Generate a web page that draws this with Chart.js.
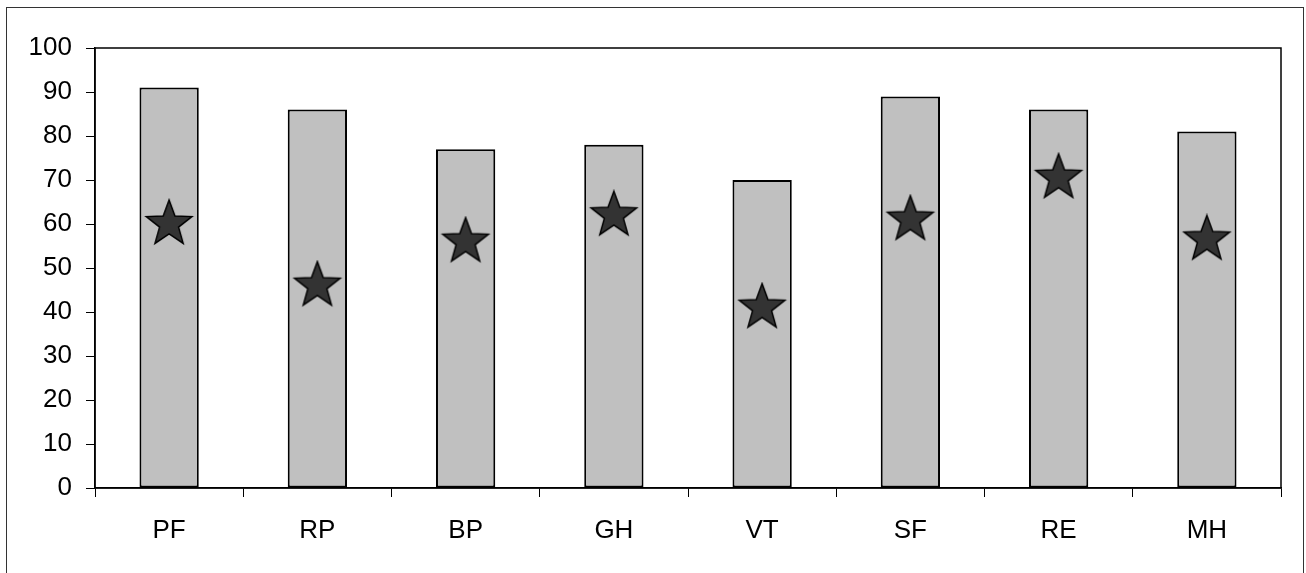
<!DOCTYPE html>
<html>
<head>
<meta charset="utf-8">
<script src="https://cdn.jsdelivr.net/npm/chart.js@4/dist/chart.umd.min.js"></script>
<style>
  html, body { margin: 0; padding: 0; background: #fff; }
  #wrap { width: 1306px; height: 573px; position: relative; }
</style>
</head>
<body>
<div id="wrap"><canvas id="chart"></canvas></div>
<script>
const categories = ['PF', 'RP', 'BP', 'GH', 'VT', 'SF', 'RE', 'MH'];
const barValues = [91, 86, 77, 78, 70, 89, 86, 81];
const starValues = [60, 46, 56, 62, 41, 61, 70.5, 56.5];
const yTicks = [0, 10, 20, 30, 40, 50, 60, 70, 80, 90, 100];

// filled five point star, used as point image
function makeStar(outer, inner) {
    const size = Math.ceil(outer * 2 + 4);
    const c = document.createElement('canvas');
    c.width = size;
    c.height = size;
    const g = c.getContext('2d');
    const cx = size / 2, cy = size / 2;
    g.beginPath();
    for (let i = 0; i < 10; i++) {
        const r = i % 2 === 0 ? outer : inner;
        const a = -Math.PI / 2 + i * Math.PI / 5;
        const px = cx + r * Math.cos(a);
        const py = cy + r * Math.sin(a);
        if (i === 0) g.moveTo(px, py); else g.lineTo(px, py);
    }
    g.closePath();
    g.fillStyle = '#333333';
    g.fill();
    g.lineWidth = 1.5;
    g.strokeStyle = '#000';
    g.stroke();
    return c;
}
const starImg = makeStar(24, 10);

const frame = {
    id: 'frame',
    beforeDraw(chart) {
        const ctx = chart.ctx;
        ctx.save();
        ctx.strokeStyle = '#333';
        ctx.lineWidth = 1;
        ctx.strokeRect(6.5, 7.5, 1297, 580);
        ctx.restore();
    },
    afterDatasetsDraw(chart) {
        const a = chart.chartArea;
        const ctx = chart.ctx;
        ctx.save();
        ctx.strokeStyle = '#000';
        ctx.lineWidth = 1.5;
        ctx.strokeRect(a.left, a.top, a.right - a.left, a.bottom - a.top);
        ctx.restore();
    }
};

const font = { family: '"Liberation Sans", Arial, sans-serif', size: 26 };

new Chart(document.getElementById('chart'), {
    type: 'bar',
    data: {
        labels: categories,
        datasets: [{
            type: 'line',
            data: starValues,
            showLine: false,
            pointStyle: starImg,
            pointRadius: 24,
            order: 0
        }, {
            data: barValues,
            backgroundColor: '#C0C0C0',
            borderColor: '#000',
            borderWidth: 2,
            borderSkipped: false,
            categoryPercentage: 1,
            barPercentage: 0.4,
            order: 1
        }]
    },
    options: {
        responsive: true,
        maintainAspectRatio: false,
        animation: false,
        layout: { padding: { top: 48, right: 21, left: 0, bottom: 0 } },
        scales: {
            x: {
                afterFit(scale) { scale.height = 85; },
                grid: {
                    offset: true,
                    drawOnChartArea: false,
                    drawTicks: true,
                    tickLength: 9,
                    color: '#000'
                },
                border: { color: '#000', width: 1.5 },
                ticks: { color: '#000', font: font, padding: 18 }
            },
            y: {
                min: 0,
                max: 100,
                afterFit(scale) { scale.width = 95; },
                afterBuildTicks(scale) { scale.ticks = yTicks.map(v => ({ value: v })); },
                grid: {
                    drawOnChartArea: false,
                    drawTicks: true,
                    tickLength: 9,
                    color: '#000'
                },
                border: { color: '#000', width: 1.5 },
                ticks: { color: '#000', font: font, padding: 14 }
            }
        },
        plugins: {
            legend: { display: false },
            tooltip: { enabled: false }
        }
    },
    plugins: [frame]
});
</script>
</body>
</html>
